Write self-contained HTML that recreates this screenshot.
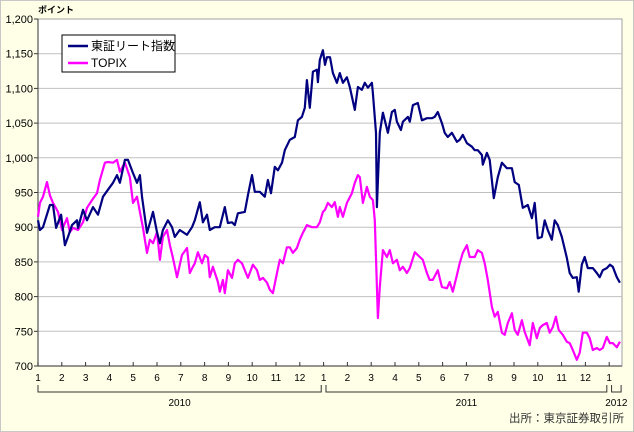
<!DOCTYPE html>
<html><head><meta charset="utf-8">
<style>
html,body{margin:0;padding:0;}
body{width:634px;height:432px;overflow:hidden;background:#fff;}
svg{display:block;font-family:"Liberation Sans","Noto Sans CJK JP",sans-serif;}
</style></head>
<body>
<svg id="chart" width="634" height="432" viewBox="0 0 634 432" xmlns="http://www.w3.org/2000/svg">
<rect x="0.5" y="0.5" width="633" height="431" fill="#ffffe8" stroke="#c8c8c8"/>
<rect x="38" y="19" width="584" height="347" fill="#ffffff" stroke="#a0a0a0" stroke-width="1"/>
<g id="grid"></g>
<g id="yaxis"></g>
<g id="xaxis"></g>
<g id="series"></g>
<text x="38" y="13" font-size="9" font-weight="bold" fill="#000">ポイント</text>
<g>
<rect x="62" y="35" width="113" height="37" fill="#fff" stroke="#000" stroke-width="1"/>
<line x1="68" y1="46" x2="88" y2="46" stroke="#000080" stroke-width="2.5"/>
<text x="91" y="50" font-size="12" fill="#000">東証リート指数</text>
<line x1="68" y1="63" x2="88" y2="63" stroke="#ff00ff" stroke-width="2.5"/>
<text x="91" y="67" font-size="12" fill="#000">TOPIX</text>
</g>
<text x="624" y="422" font-size="11.5" text-anchor="end" fill="#333">出所：東京証券取引所</text>
</svg>
<script>
// month positions (0 = Jan 2010), values in points
const reitT = [0,0.08,0.21,0.5,0.63,0.76,0.97,1.13,1.26,1.43,1.64,1.68,1.89,2.06,2.31,2.52,2.73,2.94,3.15,3.32,3.44,3.65,3.78,3.99,4.16,4.28,4.37,4.58,4.7,4.83,5,5.12,5.25,5.46,5.63,5.75,5.96,6.26,6.47,6.59,6.8,6.93,7.1,7.22,7.43,7.64,7.85,7.98,8.15,8.27,8.4,8.69,8.82,8.99,9.11,9.32,9.53,9.66,9.79,9.95,10.08,10.25,10.37,10.58,10.79,10.92,11.09,11.21,11.3,11.42,11.55,11.72,11.76,11.84,11.97,12.06,12.14,12.27,12.39,12.56,12.68,12.81,12.98,13.1,13.31,13.44,13.61,13.73,13.86,14.03,14.07,14.2,14.24,14.36,14.49,14.7,14.87,14.99,15.08,15.25,15.33,15.54,15.62,15.75,15.96,16.13,16.34,16.55,16.67,16.8,16.97,17.09,17.22,17.39,17.6,17.72,17.85,18.02,18.23,18.35,18.48,18.65,18.69,18.86,18.98,19.15,19.32,19.49,19.7,19.91,20.03,20.2,20.37,20.58,20.75,20.87,21,21.17,21.29,21.42,21.59,21.71,21.84,22.01,22.22,22.34,22.47,22.64,22.72,22.85,22.97,23.1,23.31,23.48,23.6,23.73,23.9,24.03,24.15,24.32,24.45];
const reitV = [910,896,900,932,932,899,918,874,886,903,910,899,925,910,929,918,944,954,964,975,964,997,997,978,964,975,944,892,906,922,893,877,896,910,900,886,896,889,900,910,936,907,918,896,900,900,929,906,907,903,920,922,946,975,951,951,944,968,949,987,982,993,1011,1026,1030,1054,1059,1072,1112,1072,1124,1127,1109,1141,1155,1134,1145,1145,1122,1108,1122,1108,1116,1102,1069,1102,1098,1108,1101,1108,1093,1036,929,1036,1065,1036,1066,1069,1052,1040,1052,1059,1052,1076,1079,1054,1057,1057,1059,1066,1050,1036,1030,1036,1023,1026,1033,1021,1016,1011,1011,1004,990,1007,997,942,972,993,985,985,965,961,928,932,913,935,884,886,910,896,882,910,903,886,856,834,827,828,807,846,857,841,841,834,828,838,841,846,843,828,820];
const topixT = [0,0.08,0.21,0.38,0.5,0.63,0.84,1.01,1.22,1.34,1.47,1.68,1.89,2.06,2.27,2.48,2.6,2.81,2.94,3.15,3.32,3.44,3.65,3.86,3.99,4.16,4.28,4.41,4.58,4.7,4.83,5,5.12,5.25,5.42,5.54,5.67,5.84,6.05,6.26,6.38,6.51,6.59,6.72,6.89,7.01,7.14,7.22,7.35,7.56,7.64,7.77,7.85,7.98,8.15,8.27,8.4,8.57,8.69,8.82,9.03,9.2,9.32,9.45,9.62,9.74,9.87,10.04,10.16,10.29,10.46,10.58,10.71,10.88,11,11.13,11.3,11.51,11.72,11.84,11.97,12.06,12.18,12.35,12.47,12.6,12.68,12.81,12.98,13.19,13.31,13.44,13.52,13.65,13.82,13.94,14.07,14.15,14.28,14.36,14.49,14.66,14.78,14.91,15.08,15.2,15.33,15.5,15.62,15.83,16.04,16.17,16.34,16.46,16.59,16.8,16.97,17.18,17.3,17.43,17.6,17.72,17.85,18.02,18.14,18.35,18.48,18.65,18.77,18.9,19.07,19.19,19.32,19.49,19.61,19.74,19.91,20.03,20.16,20.33,20.45,20.66,20.79,20.96,21.09,21.21,21.38,21.5,21.63,21.76,21.88,22.05,22.22,22.34,22.47,22.64,22.76,22.89,23.06,23.18,23.31,23.48,23.6,23.73,23.9,24.03,24.15,24.32,24.45];
const topixV = [915,935,944,965,946,935,922,896,913,893,899,896,907,928,939,949,968,993,994,993,997,980,993,972,935,944,922,899,863,882,877,893,853,886,896,874,856,828,860,870,834,843,848,864,848,860,856,828,843,821,807,824,805,838,827,848,853,848,838,827,846,838,824,827,820,810,805,834,853,848,871,871,863,870,882,892,903,900,900,907,922,925,935,929,936,915,929,915,935,949,964,975,972,935,958,944,939,910,769,814,867,857,867,848,853,838,843,834,841,864,857,853,834,824,824,838,814,812,821,807,831,848,863,874,857,857,867,863,848,824,785,771,778,748,745,762,776,752,745,766,749,730,762,740,755,759,762,748,756,771,752,745,735,733,723,709,719,748,748,740,723,726,723,726,742,733,733,727,735];
const yTicks = [700,750,800,850,900,950,1000,1050,1100,1150,1200];
const yTickLabels = ["700","750","800","850","900","950","1,000","1,050","1,100","1,150","1,200"];
const monthLabels = ["1","2","3","4","5","6","7","8","9","10","11","12","1","2","3","4","5","6","7","8","9","10","11","12","1"];
const yearLabels = ["2010","2011","2012"];

const NS="http://www.w3.org/2000/svg";
const X0=38, MW=23.8, Y0=366, YTOP=19, VMIN=700, VMAX=1200;
function xs(m){return X0+m*MW;}
function ys(v){return Y0-(v-VMIN)/(VMAX-VMIN)*(Y0-YTOP);}
function mk(tag,attrs,parent){const e=document.createElementNS(NS,tag);for(const k in attrs)e.setAttribute(k,attrs[k]);parent.appendChild(e);return e;}

const grid=document.getElementById('grid'), yax=document.getElementById('yaxis'), xax=document.getElementById('xaxis'), ser=document.getElementById('series');
yTicks.forEach((v,i)=>{
  const y=ys(v);
  if(i>0&&i<yTicks.length-1){
    const g=mk('line',{x1:X0,y1:y,x2:622,y2:y,stroke:'#c0c0c0','stroke-width':1},grid);
    
    
  }
  const tk=mk('line',{x1:X0-4,y1:y,x2:X0,y2:y,stroke:'#333','stroke-width':1},yax);
  
  
  const t=mk('text',{x:33,y:y+4,'font-size':11,'text-anchor':'end',fill:'#000'},yax);
  t.textContent=yTickLabels[i];
  
  
});
const ax=mk('line',{x1:X0,y1:YTOP,x2:X0,y2:Y0,stroke:'#555','stroke-width':1.2},yax);


const bx=mk('line',{x1:X0,y1:Y0,x2:622,y2:Y0,stroke:'#555','stroke-width':1.2},xax);


monthLabels.forEach((lb,i)=>{
  const x=xs(i);
  const tk=mk('line',{x1:x,y1:Y0-4,x2:x,y2:Y0,stroke:'#333','stroke-width':1},xax);
  
  
  const t=mk('text',{x:x,y:381,'font-size':10,'text-anchor':'middle',fill:'#000'},xax);
  t.textContent=lb;
  
  
});
const yearSpans=[[0,11.9],[12.1,23.9],[24.1,24.5]];
yearSpans.forEach((s,i)=>{
  const a=xs(s[0]), b=xs(s[1]);
  const p=mk('path',{d:`M${a},385V392H${b}V385`,fill:'none',stroke:'#333','stroke-width':1},xax);
  
  
  const t=mk('text',{x:(a+b)/2,y:406,'font-size':10,'text-anchor':'middle',fill:'#000'},xax);
  t.textContent=yearLabels[i];
  
  
});
function line(T,V,color,name){
  const d=T.map((m,i)=>(i?'L':'M')+xs(m).toFixed(1)+','+ys(V[i]).toFixed(1)).join('');
  const p=mk('path',{d:d,fill:'none',stroke:color,'stroke-width':2.2,'stroke-linejoin':'round'},ser);
  
  
}
line(topixT,topixV,'#ff00ff','topix-line');
line(reitT,reitV,'#000080','reit-index-line');
</script>
</body></html>
